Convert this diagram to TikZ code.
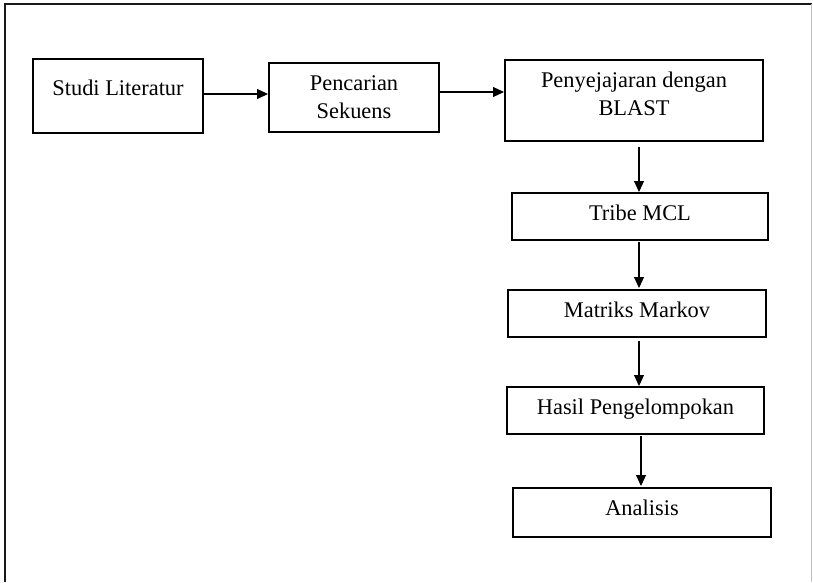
\documentclass[tikz,border=0pt]{standalone}
\usepackage{fontspec}
\setmainfont{Liberation Serif}
\usetikzlibrary{arrows.meta}

\begin{document}
\begin{tikzpicture}[x=1pt, y=-1pt,
  stepbox/.style={draw=black, line width=2pt, inner sep=0pt, align=center,
    font=\fontsize{22.4}{28}\selectfont},
  arr/.style={draw=black, line width=1.1pt, -{Triangle[length=11pt,width=10pt]}},
  frame/.style={line width=2pt, draw=black!90}
]
% page extent
\useasboundingbox (0,0) rectangle (813,582);

% outer border (open at the bottom)
\draw[frame] (4.5,582) -- (4.5,3.8) -- (812,3.8);
\draw[black!25, line width=1pt] (811.5,3.8) -- (811.5,582);

% process boxes
\node[stepbox, minimum width=170pt, minimum height=74pt, text height=0pt, text depth=1.5pt]
  (lit) at (118,96) {Studi Literatur};
\node[stepbox, minimum width=170pt, minimum height=69pt]
  (seq) at (354,97.5) {Pencarian\\Sekuens};
\node[stepbox, minimum width=258pt, minimum height=81pt, text height=43pt, text depth=13.4pt]
  (blast) at (634,100.5) {Penyejajaran dengan\\BLAST};
\node[stepbox, minimum width=256pt, minimum height=47pt, text height=9pt, text depth=2pt]
  (mcl) at (640,216.5) {Tribe MCL};
\node[stepbox, minimum width=258pt, minimum height=47pt, text height=8pt, text depth=1pt]
  (markov) at (637,313.5) {Matriks Markov};
\node[stepbox, minimum width=257pt, minimum height=47pt, text height=8pt, text depth=1pt]
  (hasil) at (635.5,410.5) {Hasil Pengelompokan};
\node[stepbox, minimum width=258pt, minimum height=49pt, text height=7pt, text depth=2pt]
  (analisis) at (642,512.5) {Analisis};

% column of the vertical connectors
\coordinate (colA) at (639,0);
\coordinate (colB) at (641,0);

% connectors
\draw[arr] ([yshift=2pt]lit.east) -- ([yshift=2pt]lit.east -| seq.west);
\draw[arr] ([yshift=5.5pt]seq.east) -- ([yshift=5.5pt]seq.east -| blast.west);
\draw[arr] ([yshift=-5pt]blast.south -| colA) -- (mcl.north -| colA);
\draw[arr] ([yshift=-1pt]mcl.south -| colA) -- ([yshift=1pt]markov.north -| colA);
\draw[arr] ([yshift=-3pt]markov.south -| colA) -- (hasil.north -| colA);
\draw[arr] ([yshift=-1pt]hasil.south -| colB) -- ([yshift=1pt]analisis.north -| colB);
\end{tikzpicture}
\end{document}
